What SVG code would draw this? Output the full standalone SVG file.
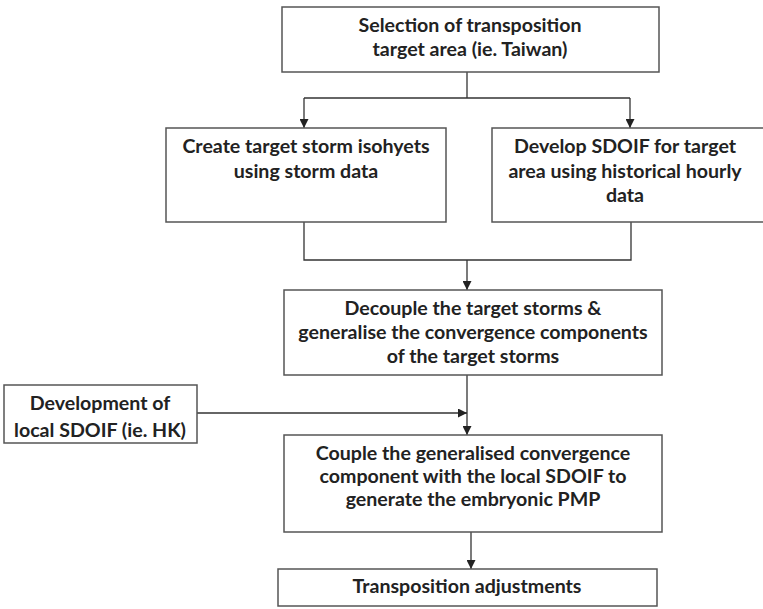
<svg xmlns="http://www.w3.org/2000/svg" width="763" height="609" viewBox="0 0 763 609">
<defs>
<marker id="ah" viewBox="0 0 10 10" refX="10" refY="5" markerWidth="9" markerHeight="9" markerUnits="userSpaceOnUse" orient="auto">
<path d="M0,0 L10,5 L0,10 z" fill="#222"/>
</marker>
<style>
.box{fill:#fff;stroke:#555;stroke-width:1.5}
.t{font-family:Lato,"Liberation Sans",sans-serif;font-weight:bold;font-size:19.6px;fill:#222;text-anchor:middle}
.c{fill:none;stroke:#333;stroke-width:1.3}
</style>
</defs>
<rect width="763" height="609" fill="#fff"/>
<g id="connectors">
<path class="c" d="M467,72 V98" />
<path class="c" d="M304,98 H630" />
<path class="c" d="M304,98 V128" marker-end="url(#ah)"/>
<path class="c" d="M630,98 V128" marker-end="url(#ah)"/>
<path class="c" d="M304,222 V260 H631 V222" />
<path class="c" d="M467,260 V290" marker-end="url(#ah)"/>
<path class="c" d="M467,375 V435" marker-end="url(#ah)"/>
<path class="c" d="M197,413 H467" marker-end="url(#ah)"/>
<path class="c" d="M471,532 V569" marker-end="url(#ah)"/>
</g>
<g id="n1">
<rect class="box" x="282" y="7" width="377" height="65"/>
<text class="t" x="470" y="32">Selection of transposition</text>
<text class="t" x="470" y="56">target area (ie. Taiwan)</text>
</g>
<g id="n2">
<rect class="box" x="166" y="128" width="280" height="94"/>
<text class="t" x="306" y="153">Create target storm isohyets</text>
<text class="t" x="306" y="178">using storm data</text>
</g>
<g id="n3">
<rect class="box" x="492" y="128" width="275" height="94"/>
<text class="t" x="625" y="153">Develop SDOIF for target</text>
<text class="t" x="625" y="178">area using historical hourly</text>
<text class="t" x="625" y="202">data</text>
</g>
<g id="n4">
<rect class="box" x="284" y="290" width="378" height="85"/>
<text class="t" x="473" y="315">Decouple the target storms &amp;</text>
<text class="t" x="473" y="339">generalise the convergence components</text>
<text class="t" x="473" y="363">of the target storms</text>
</g>
<g id="n5">
<rect class="box" x="4" y="385" width="193" height="58"/>
<text class="t" x="100" y="410">Development of</text>
<text class="t" x="100" y="437">local SDOIF (ie. HK)</text>
</g>
<g id="n6">
<rect class="box" x="284" y="435" width="378" height="97"/>
<text class="t" x="473" y="460">Couple the generalised convergence</text>
<text class="t" x="473" y="483">component with the local SDOIF to</text>
<text class="t" x="473" y="506">generate the embryonic PMP</text>
</g>
<g id="n7">
<rect class="box" x="278" y="569" width="379" height="37"/>
<text class="t" x="467" y="593">Transposition adjustments</text>
</g>
</svg>
